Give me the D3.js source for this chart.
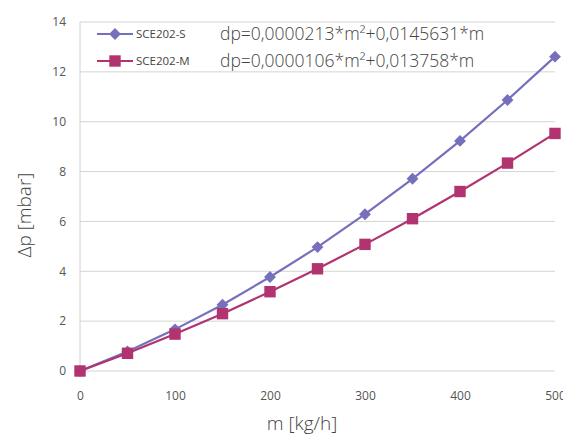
<!DOCTYPE html>
<meta charset="utf-8">
<style>
  body { margin: 0; background: #fff; }
  .tick text { fill: #555; font-family: "Open Sans", sans-serif; font-size: 12px; }
  .grid line { stroke: #d4d4d4; stroke-width: 1; }
  .title { fill: #444; font-family: "Open Sans", sans-serif; font-size: 19px; font-weight: 300; }
</style>
<svg width="563" height="435"></svg>
<script src="https://d3js.org/d3.v7.min.js"></script>
<script>
var massFlow = [0, 50, 100, 150, 200, 250, 300, 350, 400, 450, 500];
var seriesS = [0, 0.78, 1.67, 2.66, 3.77, 4.97, 6.29, 7.71, 9.23, 10.87, 12.61];
var seriesM = [0, 0.71, 1.48, 2.30, 3.18, 4.10, 5.08, 6.11, 7.20, 8.34, 9.53];
var names = ["SCE202-S", "SCE202-M"];
var formulas = ["dp=0,0000213*m²+0,0145631*m", "dp=0,0000106*m²+0,013758*m"];
var xTicks = [0, 100, 200, 300, 400, 500];
var yTicks = [0, 2, 4, 6, 8, 10, 12, 14];

var svg = d3.select("svg");
var x = d3.scaleLinear().domain([0, 500]).range([80, 555]);
var y = d3.scaleLinear().domain([0, 14]).range([371, 22]);

// gridlines
svg.append("g").attr("class", "grid")
  .selectAll("line").data(yTicks).enter().append("line")
  .attr("x1", x(0)).attr("x2", x(500))
  .attr("y1", function(d) { return y(d); }).attr("y2", function(d) { return y(d); });

svg.append("line")
  .attr("x1", x(0)).attr("x2", x(0)).attr("y1", y(0)).attr("y2", y(14))
  .attr("stroke", "#d0d0d0");

var yAxis = svg.append("g").attr("transform", "translate(" + (x(0) - 6) + ",0)")
  .call(d3.axisLeft(y).tickValues(yTicks).tickSize(0).tickPadding(8));
yAxis.select(".domain").remove();

var xAxis = svg.append("g").attr("transform", "translate(0," + (y(0) + 12) + ")")
  .call(d3.axisBottom(x).tickValues(xTicks).tickSize(0).tickPadding(8));
xAxis.select(".domain").remove();

svg.append("text").attr("class", "title")
  .attr("x", 302).attr("y", 430).attr("text-anchor", "middle")
  .text("m [kg/h]");
svg.append("text").attr("class", "title")
  .attr("transform", "translate(31,215) rotate(-90)")
  .attr("text-anchor", "middle")
  .text("Δp [mbar]");

var line = d3.line()
  .x(function(d, i) { return x(massFlow[i]); })
  .y(function(d) { return y(d); });

var colS = "#7670bc", colM = "#b1336f";

svg.append("path").datum(seriesS).attr("d", line)
  .attr("fill", "none").attr("stroke", colS).attr("stroke-width", 2.2);
svg.append("path").datum(seriesM).attr("d", line)
  .attr("fill", "none").attr("stroke", colM).attr("stroke-width", 2.2);

var diamond = d3.symbol().type(d3.symbolDiamond2).size(90);
var square = d3.symbol().type(d3.symbolSquare).size(130);

svg.append("g").selectAll("path").data(seriesS).enter().append("path")
  .attr("d", diamond)
  .attr("transform", function(d, i) { return "translate(" + x(massFlow[i]) + "," + y(d) + ")"; })
  .attr("fill", colS);
svg.append("g").selectAll("path").data(seriesM).enter().append("path")
  .attr("d", square)
  .attr("transform", function(d, i) { return "translate(" + x(massFlow[i]) + "," + y(d) + ")"; })
  .attr("fill", colM);

// legend
var legend = svg.selectAll(".legend").data(names).enter().append("g")
  .attr("class", "legend")
  .attr("transform", function(d, i) { return "translate(0," + (34 + i * 27) + ")"; });

legend.append("line").attr("x1", 97).attr("x2", 133)
  .attr("stroke", function(d, i) { return i ? colM : colS; }).attr("stroke-width", 2.2);
legend.append("path")
  .attr("d", function(d, i) { return i ? square() : diamond(); })
  .attr("transform", "translate(115,0)")
  .attr("fill", function(d, i) { return i ? colM : colS; });
legend.append("text").attr("x", 136).attr("y", 4)
  .attr("font-family", "'Open Sans', sans-serif")
  .attr("font-size", 11.5).attr("fill", "#444")
  .text(function(d) { return d; });
legend.append("text").attr("x", 220).attr("y", 6)
  .attr("font-family", "'Open Sans', sans-serif")
  .attr("font-size", 17.5).attr("font-weight", 300).attr("fill", "#444")
  .text(function(d, i) { return formulas[i]; });
</script>
